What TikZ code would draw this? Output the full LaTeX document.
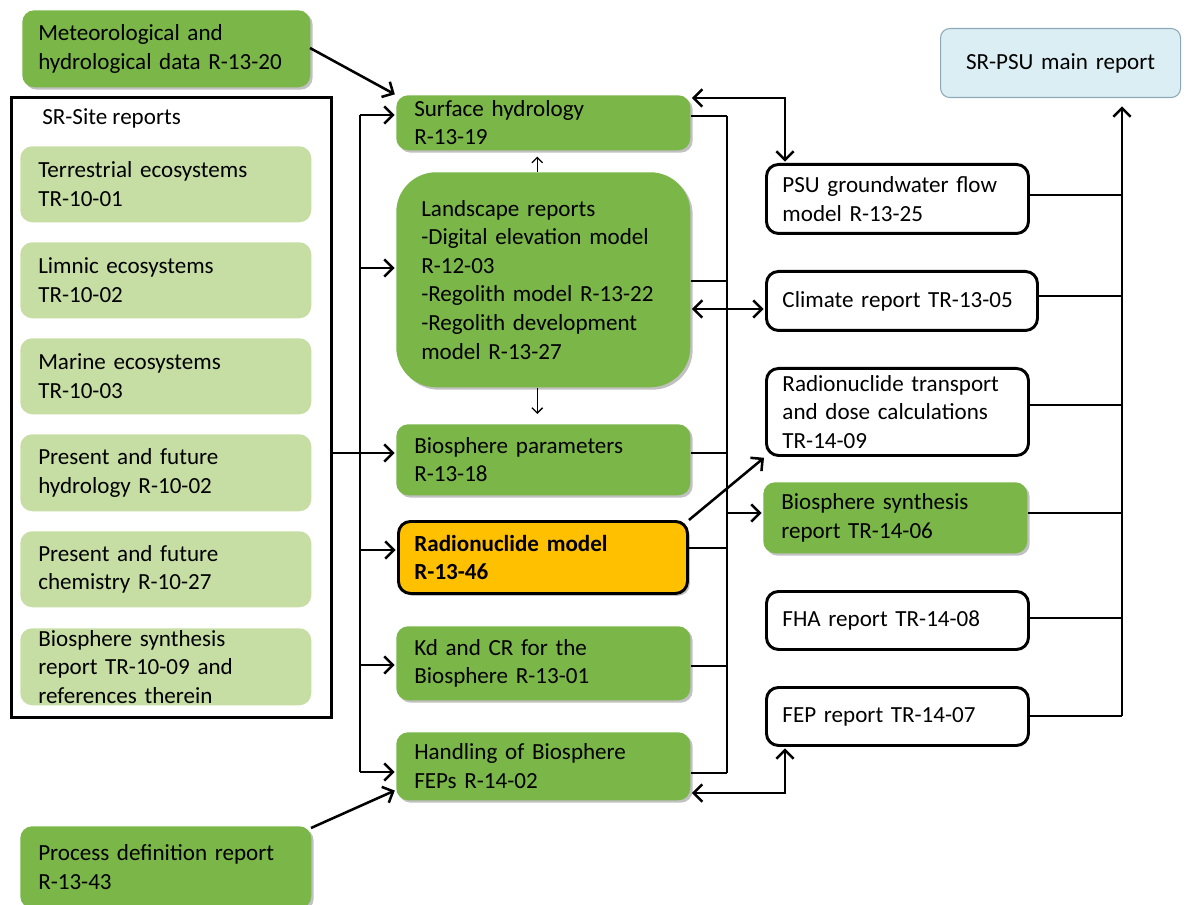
\documentclass[tikz,border=0pt]{standalone}
\usepackage{fontspec}
\setmainfont{Carlito}
\usetikzlibrary{arrows.meta,shadows,calc}
\definecolor{gr}{HTML}{7AB648}
\definecolor{lgr}{HTML}{C6DEA3}
\definecolor{org}{HTML}{FFC000}
\definecolor{pbl}{HTML}{DBEEF4}
\definecolor{pbd}{HTML}{8EA9B8}
\newcommand\bx[8]{%
  \pgfmathsetmacro\bxw{#5*0.75}%
  \pgfmathsetmacro\bxh{#6*0.75}%
  \pgfmathsetmacro\bxp{#7*0.75}%
  \pgfmathsetmacro\bxt{(#5-2*#7)*0.75}%
  \node[base,#2,minimum width=\bxw pt,minimum height=\bxh pt,inner xsep=\bxp pt,text width=\bxt pt] (#1) at (#3,#4) {#8};}
\tikzset{
  base/.style={anchor=north west, align=left, inner ysep=0pt},
  shad/.style={drop shadow={shadow xshift=1.8pt, shadow yshift=-1.8pt, opacity=0.35, fill=black!70}},
  gbox/.style={fill=gr, rounded corners=9pt, shad},
  lbox/.style={fill=lgr, rounded corners=9pt},
  obox/.style={fill=org, draw=black, line width=2.2pt, rounded corners=9pt, shad},
  wbox/.style={fill=white, draw=black, line width=2.2pt, rounded corners=9pt},
  pbox/.style={fill=pbl, draw=pbd, line width=0.8pt, rounded corners=7pt, align=center},
  frame/.style={draw=black, line width=2.2pt},
  arr/.style={line width=1.9pt, -{Straight Barb[length=6.5pt,width=13pt]}, shorten >=1pt},
  arrb/.style={line width=1.9pt, {Straight Barb[length=6.5pt,width=13pt]}-{Straight Barb[length=6.5pt,width=13pt]}, shorten >=1pt, shorten <=1pt},
  tarr/.style={line width=1pt, -{Straight Barb[length=4pt,width=8pt]}},
  bus/.style={line width=1.9pt},
  tline/.style={line width=1.1pt},
}
\begin{document}
\begin{tikzpicture}[x=0.75pt,y=-0.75pt,font=\fontsize{17.3}{21.4}\selectfont]
\useasboundingbox (0,0) rectangle (1192,905);
% left column
\bx{met}{gbox}{22}{10}{288}{77}{16}{Meteorological and\\hydrological data R-13-20}
\bx{srs}{frame}{10}{96}{320}{620}{16}{}
\node[anchor=west,inner sep=0pt] (srst) at (42,118) {SR-Site reports};
\bx{terr}{lbox}{20}{146}{291}{76}{18}{Terrestrial ecosystems\\TR-10-01}
\bx{limn}{lbox}{20}{242}{291}{76}{18}{Limnic ecosystems\\TR-10-02}
\bx{mar}{lbox}{20}{338}{291}{76}{18}{Marine ecosystems\\TR-10-03}
\bx{hyd}{lbox}{20}{434}{291}{77}{18}{Present and future\\hydrology R-10-02}
\bx{chem}{lbox}{20}{531}{291}{76}{18}{Present and future\\chemistry R-10-27}
\bx{bsyn}{lbox}{20}{628}{291}{77}{18}{Biosphere synthesis\\report TR-10-09 and\\references therein}
\bx{proc}{gbox}{20}{826}{291}{82}{18}{Process definition report\\R-13-43}
% middle column
\bx{surf}{gbox}{396}{95}{294}{55}{18}{Surface hydrology\\R-13-19}
\bx{land}{gbox,rounded corners=30pt}{396}{172}{294}{215}{25}{Landscape reports\\-Digital elevation model\\R-12-03\\-Regolith model R-13-22\\-Regolith development\\model R-13-27}
\bx{bpar}{gbox}{396}{424}{294}{71}{18}{Biosphere parameters\\R-13-18}
\bx{radm}{obox}{397}{520}{289}{72}{16}{\textbf{Radionuclide model}\\\textbf{R-13-46}}
\bx{kd}{gbox}{396}{626}{294}{74}{18}{Kd and CR for the\\Biosphere R-13-01}
\bx{hand}{gbox}{396}{732}{294}{68}{18}{Handling of Biosphere\\FEPs R-14-02}
% right column
\bx{psu}{wbox}{765}{163}{262}{69}{16}{PSU groundwater flow\\model R-13-25}
\bx{clim}{wbox}{765}{270}{271}{59}{16}{Climate report TR-13-05}
\bx{rtd}{wbox}{765}{367}{262}{87}{16}{Radionuclide transport\\and dose calculations\\TR-14-09}
\bx{bsr}{gbox}{763}{482}{264}{71}{18}{Biosphere synthesis\\report TR-14-06}
\bx{fha}{wbox}{765}{590}{262}{58}{16}{FHA report TR-14-08}
\bx{fep}{wbox}{765}{686}{262}{58}{16}{FEP report TR-14-07}
\bx{main}{pbox}{940}{28}{240}{69}{16}{SR-PSU main report}
% left bus
\coordinate (L1) at (360,115);
\coordinate (L2) at (360,268);
\coordinate (L3) at (360,453);
\coordinate (L4) at (360,550);
\coordinate (L5) at (360,665);
\coordinate (L6) at (360,772);
\draw[bus] (L1) -- (L6);
\draw[arr] (L1) -- (L1 -| surf.west);
\draw[arr] (L2) -- (L2 -| land.west);
\draw[arr] (L3 -| srs.east) -- (L3 -| bpar.west);
\draw[arr] (L4) -- (L4 -| radm.west);
\draw[arr] (L5) -- (L5 -| kd.west);
\draw[arr] (L6) -- (L6 -| hand.west);
% inputs
\coordinate (M1) at (310,48);
\draw[arr] (M1) -- (surf.north west);
\coordinate (P1) at (311,828);
\coordinate (P2) at (396,790);
\draw[arr] (P1) -- (P2);
\draw[tarr] ($(land.north)+(-6,0)$) -- ($(surf.south)+(-6,6)$);
\draw[tarr] ($(land.south)+(-6,0)$) -- ($(bpar.north)+(-6,-10)$);
% inner right bus
\coordinate (R1) at (727,116);
\coordinate (R2) at (727,281);
\coordinate (R3) at (727,453);
\coordinate (R4) at (727,548);
\coordinate (R5) at (727,666);
\coordinate (R6) at (727,773);
\draw[tline] (R1) -- (R6);
\draw[tline] (R1 -| surf.east) -- (R1);
\draw[tline] (R2 -| land.east) -- (R2);
\draw[tline] (R3 -| bpar.east) -- (R3);
\draw[tline] (R4 -| radm.east) -- (R4);
\draw[tline] (R5 -| kd.east) -- (R5);
\draw[tline] (R6 -| hand.east) -- (R6);
% links to right column
\coordinate (S1) at (785,98);
\draw[arrb] (S1 -| surf.east) -- (S1) -- (psu.north west -| S1);
\coordinate (S2) at (785,793);
\draw[arrb] (S2 -| hand.east) -- (S2) -- (fep.south west -| S2);
\coordinate (C1) at (760,309);
\draw[arrb] (C1 -| land.east) -- (C1 -| clim.west);
\coordinate (B1) at (727,513);
\draw[arr] (B1) -- (B1 -| bsr.west);
\draw[arr] (radm.north east) -- (rtd.south west);
% right bus
\coordinate (T0) at (1122,97);
\coordinate (T1) at (1122,195);
\coordinate (T2) at (1122,296);
\coordinate (T3) at (1122,405);
\coordinate (T4) at (1122,513);
\coordinate (T5) at (1122,618);
\coordinate (T6) at (1122,716);
\draw[arr] (T6) -- ($(T0)+(0,8)$);
\draw[tline] (T1 -| psu.east) -- (T1);
\draw[tline] (T2 -| clim.east) -- (T2);
\draw[tline] (T3 -| rtd.east) -- (T3);
\draw[tline] (T4 -| bsr.east) -- (T4);
\draw[tline] (T5 -| fha.east) -- (T5);
\draw[tline] (T6 -| fep.east) -- (T6);
\end{tikzpicture}
\end{document}
